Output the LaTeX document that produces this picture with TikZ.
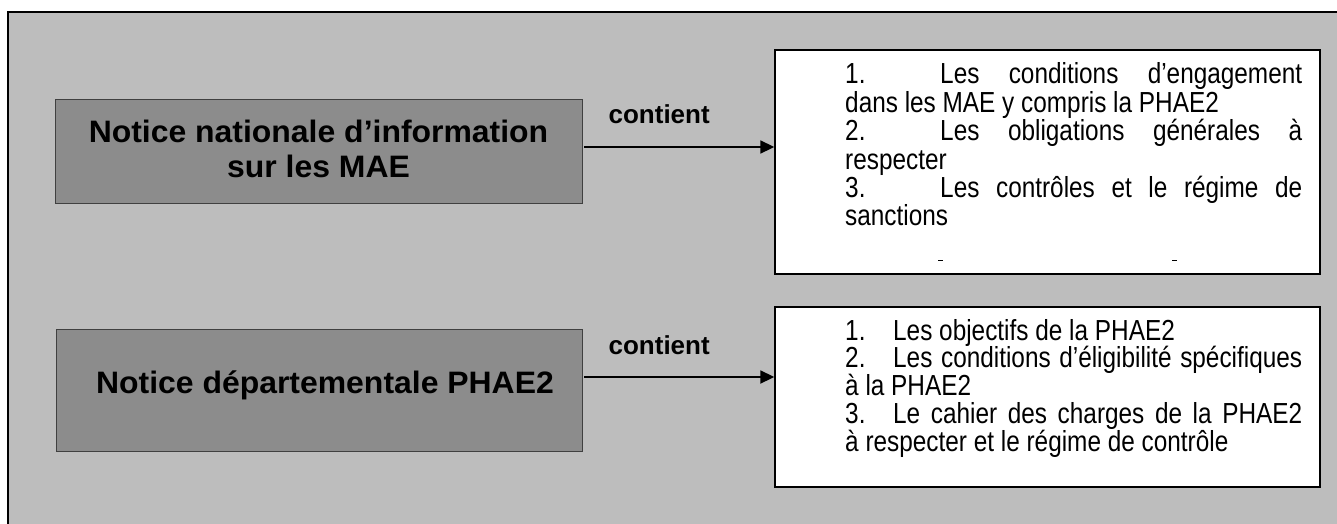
\documentclass[tikz,border=0pt]{standalone}
\usepackage{fontspec}
\setmainfont{Liberation Sans}
\newfontfamily\listfont[FakeStretch=0.84]{Liberation Sans}
\newfontfamily\boxfont[FakeStretch=1.03]{Liberation Sans}
\usetikzlibrary{arrows.meta,calc}
\definecolor{bggray}{HTML}{BDBDBD}
\definecolor{boxgray}{HTML}{8C8C8C}
\newcommand\lstblock[2]{\vtop{\listfont\fontsize{29}{#1}\selectfont\baselineskip=#1\relax\hsize=457pt #2}}
\newcommand\numtab[2]{\hbox to #1{#2\hfil}}
\begin{document}
\begin{tikzpicture}[x=1pt,y=-1pt,
  gbox/.style={draw=black!75, line width=0.8pt, fill=boxgray, inner sep=0},
  wbox/.style={draw=black, line width=1.4pt, fill=white, inner sep=0},
  gtext/.style={font=\boxfont\bfseries\fontsize{31}{36}\selectfont, anchor=base, inner sep=0},
  lab/.style={font=\bfseries\fontsize{26}{30}\selectfont, anchor=base, inner sep=0, yshift=23pt},
  arr/.style={-{Triangle[length=14pt,width=13pt]}, line width=1.8pt, shorten <=2pt},
  ltext/.style={anchor=base west, inner sep=0}]
\useasboundingbox (0,0) rectangle (1337,524);
\fill[white] (0,0) rectangle (1337,524);
\fill[bggray] (8,12) rectangle (1337,524);
\draw[line width=2pt] (8,524) -- (8,12) -- (1337,12);

% gray boxes
\node[gbox, minimum width=527pt, minimum height=104pt] (g1) at (318.5,151) {};
\node[gtext] (g1a) at (318.5,142) {Notice nationale d’information};
\node[gtext] (g1b) at (318.5,177) {sur les MAE};
\node[gbox, minimum width=526pt, minimum height=122pt] (g2) at (319,390) {};
\node[gtext] (g2a) at (325,393) {Notice départementale PHAE2};

% white boxes
\node[wbox, minimum width=545pt, minimum height=224pt] (w1) at (1047.5,162) {};
\node[wbox, minimum width=545pt, minimum height=180pt] (w2) at (1047.5,397) {};

\node[ltext] (t1) at (845,84) {\lstblock{28.4pt}{%
\hbox to\hsize{\numtab{95pt}{1.}Les\hfill conditions\hfill d’engagement}
\hbox to\hsize{dans les MAE y compris la PHAE2\hfil}
\hbox to\hsize{\numtab{95pt}{2.}Les\hfill obligations\hfill générales\hfill à}
\hbox to\hsize{respecter\hfil}
\hbox to\hsize{\numtab{95pt}{3.}Les\hfill contrôles\hfill et\hfill le\hfill régime\hfill de}
\hbox to\hsize{sanctions\hfil}}};

\node[ltext] (t2) at (845,340) {\lstblock{27.8pt}{%
\hbox to\hsize{\numtab{48pt}{1.}Les objectifs de la PHAE2\hfil}
\hbox to\hsize{\numtab{48pt}{2.}Les\hfill conditions\hfill d’éligibilité\hfill spécifiques}
\hbox to\hsize{à la PHAE2\hfil}
\hbox to\hsize{\numtab{48pt}{3.}Le\hfill cahier\hfill des\hfill charges\hfill de\hfill la\hfill PHAE2}
\hbox to\hsize{à respecter et le régime de contrôle\hfil}}};

% small marks at the bottom of the first list box
\draw[line width=1pt] (938,260) -- (943,260);
\draw[line width=1pt] (1172,260) -- (1177,260);

% connectors
\draw[arr] ([yshift=4pt]g1.east) -- ([yshift=4pt]g1.east -| w1.west)
  node[lab, pos=0.4] (c1) {contient};
\draw[arr] ([yshift=13pt]g2.east) -- ([yshift=13pt]g2.east -| w2.west)
  node[lab, pos=0.4] (c2) {contient};
\end{tikzpicture}
\end{document}
